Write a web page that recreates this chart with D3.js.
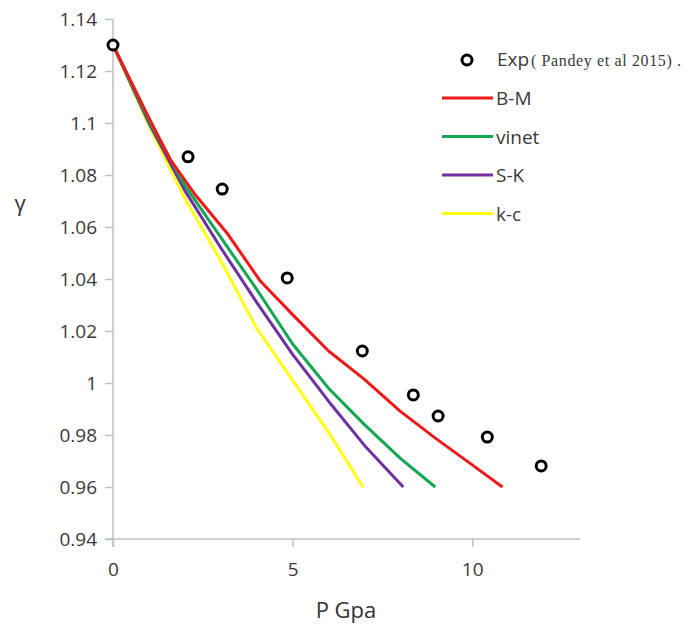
<!DOCTYPE html>
<html>
<head>
<meta charset="utf-8">
<script src="https://cdn.jsdelivr.net/npm/d3@7"></script>
<style>
  body { margin: 0; background: #fff; }
  svg { display: block; }
</style>
</head>
<body>
<script>
// data: [P (GPa), gamma]
const expData = [[0, 1.13], [2.09, 1.087], [3.04, 1.0746], [4.85, 1.0404], [6.94, 1.0123],
  [8.36, 0.9954], [9.05, 0.9873], [10.42, 0.9792], [11.92, 0.9681]]
const bmData = [[0, 1.13], [1, 1.102], [1.6, 1.0858], [2.3, 1.0722], [3.2, 1.0572], [4.1, 1.0392],
  [5, 1.0263], [6, 1.0123], [7, 1.0014], [8, 0.9891], [9, 0.9785], [10, 0.9685], [10.84, 0.96]]
const vinetData = [[0, 1.13], [1, 1.101], [2, 1.076], [3, 1.056], [4, 1.036], [5, 1.015],
  [6, 0.998], [7, 0.984], [8, 0.971], [8.97, 0.96]]
const skData = [[0, 1.13], [1, 1.100], [2, 1.074], [3, 1.052], [4, 1.031], [5, 1.011],
  [6, 0.993], [7, 0.976], [8.08, 0.96]]
const kcData = [[0, 1.13], [1, 1.099], [2, 1.071], [3, 1.047], [4, 1.021], [5, 1.001],
  [6, 0.981], [6.96, 0.96]]

const seriesNames = ['B-M', 'vinet', 'S-K', 'k-c']
const seriesColors = ['#f01818', '#10a850', '#7030a0', '#ffff10']
const seriesData = [bmData, vinetData, skData, kcData]

const xTicks = [0, 5, 10]
const yTicks = [0.94, 0.96, 0.98, 1, 1.02, 1.04, 1.06, 1.08, 1.1, 1.12, 1.14]

const width = 685
const height = 627
const mLeft = 113, mTop = 19, mRight = 580, mBottom = 539

const svg = d3.select('body').append('svg')
  .attr('width', width)
  .attr('height', height)

const x = d3.scaleLinear().domain([0, 13]).range([mLeft, mRight])
const y = d3.scaleLinear().domain([0.94, 1.14]).range([mBottom, mTop])

// axes
const yaxis = d3.axisLeft(y).tickValues(yTicks).tickSize(8).tickPadding(8)
  .tickFormat(d => String(+d.toFixed(2)))
const xaxis = d3.axisBottom(x).tickValues(xTicks).tickSize(8).tickPadding(16)

svg.append('g')
  .attr('class', 'axis')
  .attr('transform', 'translate(' + mLeft + ',0)')
  .call(yaxis)
svg.append('g')
  .attr('class', 'axis')
  .attr('transform', 'translate(0,' + mBottom + ')')
  .call(xaxis)

svg.selectAll('.axis path.domain').remove()
// axis lines extend by tick length like Excel
svg.append('line')
  .attr('x1', mLeft).attr('x2', mLeft)
  .attr('y1', mTop).attr('y2', mBottom + 8)
  .style('stroke', '#bfbfbf').style('stroke-width', 1.5)
svg.append('line')
  .attr('x1', mLeft - 8).attr('x2', mRight)
  .attr('y1', mBottom).attr('y2', mBottom)
  .style('stroke', '#bfbfbf').style('stroke-width', 1.5)

svg.selectAll('.axis line')
  .style('stroke', '#bfbfbf')
  .style('stroke-width', 1.5)
svg.selectAll('.axis text')
  .style('fill', '#3a3a3a')
  .style('font-family', '"Open Sans", sans-serif')
  .style('font-size', '19px')

// axis titles
svg.append('text')
  .attr('x', 20).attr('y', 211)
  .attr('text-anchor', 'middle')
  .style('font-family', '"Open Sans", sans-serif')
  .style('font-size', '22px')
  .style('fill', '#333')
  .text('γ')
svg.append('text')
  .attr('x', 346).attr('y', 618)
  .attr('text-anchor', 'middle')
  .style('font-family', '"Open Sans", sans-serif')
  .style('font-size', '22px')
  .style('fill', '#333')
  .text('P Gpa')

// model curves
const line = d3.line()
  .x(d => x(d[0]))
  .y(d => y(d[1]))

// draw k-c first so the others sit on top like the original
const order = [3, 2, 1, 0]
order.forEach(i => {
  svg.append('path')
    .datum(seriesData[i])
    .attr('d', line)
    .style('fill', 'none')
    .style('stroke', seriesColors[i])
    .style('stroke-width', 3)
    .style('stroke-linejoin', 'round')
})

// experimental points
svg.selectAll('circle.exp')
  .data(expData)
  .enter()
  .append('circle')
  .attr('class', 'exp')
  .attr('cx', d => x(d[0]))
  .attr('cy', d => y(d[1]))
  .attr('r', 5)
  .style('fill', '#fff')
  .style('stroke', '#000')
  .style('stroke-width', 3)

// legend
const legend = svg.append('g')
legend.append('circle')
  .attr('cx', 467).attr('cy', 60).attr('r', 5)
  .style('fill', '#fff').style('stroke', '#000').style('stroke-width', 3)
legend.append('text')
  .attr('x', 497).attr('y', 66)
  .style('fill', '#3a3a3a')
  .style('font-family', '"Open Sans", sans-serif')
  .style('font-size', '19px')
  .text('Exp')
legend.append('text')
  .attr('x', 531).attr('y', 66)
  .attr('textLength', 150)
  .attr('lengthAdjust', 'spacing')
  .style('fill', '#3a3a3a')
  .style('font-family', '"Liberation Serif", serif')
  .style('font-size', '16px')
  .text('( Pandey  et al 2015) .')

seriesNames.forEach((name, i) => {
  const ly = 98 + i * 38.5
  legend.append('line')
    .attr('x1', 442).attr('x2', 493)
    .attr('y1', ly).attr('y2', ly)
    .style('stroke', seriesColors[i])
    .style('stroke-width', 3)
  legend.append('text')
    .attr('x', 496).attr('y', ly + 7)
    .style('font-family', '"Open Sans", sans-serif')
    .style('font-size', '19px')
    .style('fill', '#3a3a3a')
    .text(name)
})
</script>
</body>
</html>
